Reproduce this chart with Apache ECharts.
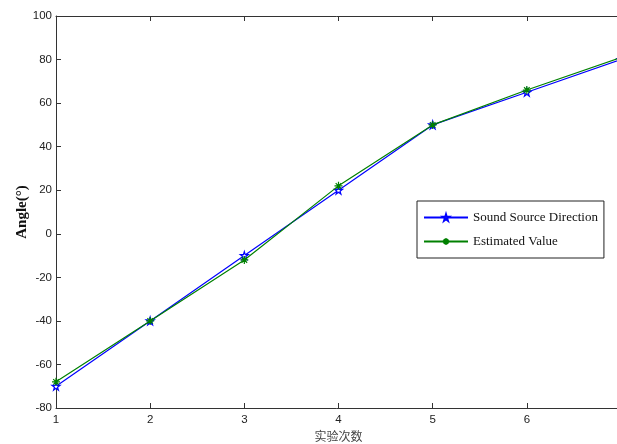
<!DOCTYPE html>
<html>
<head>
<meta charset="utf-8">
<script src="https://cdn.jsdelivr.net/npm/echarts@6/dist/echarts.min.js"></script>
<style>
  html, body { margin: 0; padding: 0; background: #fff; }
  #chart { width: 617px; height: 444px; }
</style>
</head>
<body>
<div id="chart"></div>
<script>
// 实验次数
var trials = [1, 2, 3, 4, 5, 6, 7];
// Sound Source Direction
var soundDir = [-70, -40, -10, 20, 50, 65, 80];
// Estimated Value
var estimated = [-68, -40, -12, 22, 50, 66, 81];
var xTicks = [1, 2, 3, 4, 5, 6];

function pairs(xs, ys) {
    return xs.map(function (x, i) { return [x, ys[i]]; });
}

var chart = echarts.init(document.getElementById('chart'));

var pentagram = 'path://M50,0 L61,35 L98,35 L68,57 L79,91 L50,70 L21,91 L32,57 L2,35 L39,35 Z';
var asterisk = 'path://M5,0 L5,10 M0,5 L10,5 M1.5,1.5 L8.5,8.5 M8.5,1.5 L1.5,8.5';

var axisFont = { fontFamily: 'Liberation Sans', fontSize: 11.5, color: '#222' };

var option = {
    backgroundColor: '#fff',
    animation: false,
    color: ['#0000ff', '#008000'],
    grid: { left: 56, top: 16, width: 565, height: 392, outerBoundsMode: 'none' },
    legend: {
        left: 417, top: 201,
        orient: 'vertical',
        backgroundColor: '#fff',
        borderColor: '#222',
        borderWidth: 1,
        padding: [10, 6, 10, 6],
        itemGap: 11,
        itemWidth: 44,
        itemHeight: 8,
        textStyle: { fontFamily: 'Liberation Serif', fontSize: 13, color: '#111' },
        data: ['Sound Source Direction', 'Estimated Value']
    },
    xAxis: [{
        type: 'value',
        min: 1, max: 7,
        interval: 1,
        name: '实验次数',
        nameLocation: 'middle',
        nameGap: 21,
        nameTextStyle: { fontFamily: 'Noto Sans CJK SC', fontSize: 12, color: '#444' },
        axisLine: { onZero: false, lineStyle: { color: '#333' } },
        axisTick: { inside: true, length: 5, lineStyle: { color: '#333' } },
        axisLabel: Object.assign({
            margin: 6,
            formatter: function (v) { return xTicks.indexOf(v) >= 0 ? v : ''; }
        }, axisFont),
        splitLine: { show: false }
    }, {
        type: 'value',
        position: 'top',
        min: 1, max: 7,
        interval: 1,
        axisLine: { onZero: false, lineStyle: { color: '#333' } },
        axisTick: { inside: true, length: 5, lineStyle: { color: '#333' } },
        axisLabel: { show: false },
        splitLine: { show: false }
    }],
    yAxis: {
        type: 'value',
        min: -80, max: 100,
        interval: 20,
        name: 'Angle(°)',
        nameLocation: 'middle',
        nameGap: 26,
        nameMoveOverlap: false,
        nameTextStyle: { fontFamily: 'Liberation Serif', fontSize: 15, fontWeight: 'bold', color: '#111' },
        axisLine: { show: true, onZero: false, lineStyle: { color: '#333' } },
        axisTick: { show: true, inside: true, length: 5, lineStyle: { color: '#333' } },
        axisLabel: Object.assign({ margin: 4 }, axisFont),
        splitLine: { show: false }
    },
    series: [{
        name: 'Sound Source Direction',
        type: 'line',
        data: pairs(trials, soundDir),
        symbol: pentagram,
        symbolSize: 8,
        showAllSymbol: true,
        lineStyle: { color: '#0000ff', width: 1.2 },
        itemStyle: { color: '#fff', borderColor: '#0000ff', borderWidth: 1.2 },
        z: 2
    }, {
        name: 'Estimated Value',
        type: 'line',
        data: pairs(trials, estimated),
        symbol: asterisk,
        symbolSize: 8,
        showAllSymbol: true,
        lineStyle: { color: '#008000', width: 1.2 },
        itemStyle: { color: 'none', borderColor: '#008000', borderWidth: 1.2 },
        z: 3
    }]
};

chart.setOption(option);
</script>
</body>
</html>
